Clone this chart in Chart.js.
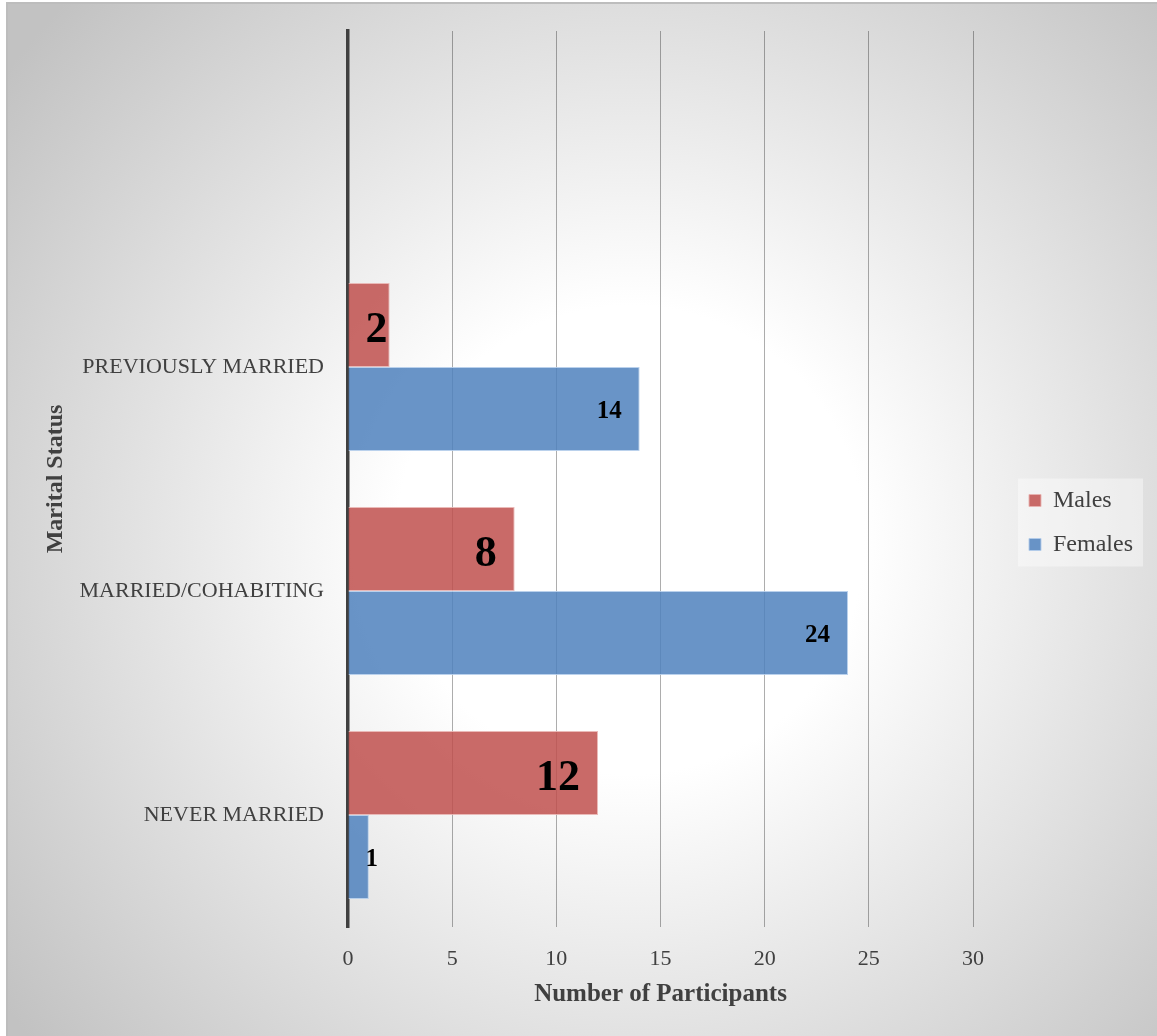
<!DOCTYPE html>
<html>
<head>
<meta charset="utf-8">
<title>Marital Status of Participants</title>
<script src="https://cdn.jsdelivr.net/npm/chart.js@4.4.1/dist/chart.umd.min.js"></script>
<style>
    html, body { margin: 0; padding: 0; background: #fff; }
</style>
</head>
<body>
<canvas id="statusChart" width="1157" height="1036"></canvas>
<script>
// Marital status by gender (top slot intentionally blank)
const categories = ['', 'PREVIOUSLY MARRIED', 'MARRIED/COHABITING', 'NEVER MARRIED'];
const males = [null, 2, 8, 12];
const females = [null, 14, 24, 1];
const xMin = 0;
const xMax = 30;
const xStep = 5;

const SERIF = '"Liberation Serif", "DejaVu Serif", serif';
const INK = '#404040';

Chart.defaults.font.family = SERIF;
Chart.defaults.color = INK;

// Grey radial backdrop plus the pale panel behind the legend
const backdrop = {
    id: 'backdrop',
    beforeDraw(chart) {
        const { ctx, width, height } = chart;
        ctx.save();
        ctx.fillStyle = '#ffffff';
        ctx.fillRect(0, 0, width, height);
        const g = ctx.createRadialGradient(630, 540, 0, 630, 540, 780);
        g.addColorStop(0, '#ffffff');
        g.addColorStop(0.3, '#ffffff');
        g.addColorStop(1, '#c2c2c2');
        ctx.fillStyle = g;
        ctx.fillRect(6, 2, width - 6, height - 2);
        ctx.strokeStyle = '#bdbdbd';
        ctx.lineWidth = 2;
        ctx.strokeRect(7, 3, width, height);

        const lg = chart.legend;
        if (lg && lg.columnSizes && lg.columnSizes.length) {
            const pad = lg.options.labels.padding;
            const colH = lg.columnSizes[0].height;
            const y0 = (lg.top + pad + lg.bottom - colH) / 2;
            ctx.fillStyle = 'rgba(255, 255, 255, 0.4)';
            ctx.fillRect(lg.left + pad - 11, y0 - 10, 125, 88);
        }
        ctx.restore();
    },
    afterLayout(chart) {
        // nudge the legend off the plot edge
        const lg = chart.legend;
        if (!lg) return;
        lg.left += 36; lg.right += 36;
        lg.top -= 11; lg.bottom -= 11;
    }
};

// Value labels near the end of each bar
const barValues = {
    id: 'barValues',
    afterDatasetsDraw(chart) {
        const { ctx } = chart;
        ctx.save();
        ctx.fillStyle = '#000000';
        ctx.textAlign = 'left';
        ctx.textBaseline = 'middle';
        chart.data.datasets.forEach((ds, di) => {
            const meta = chart.getDatasetMeta(di);
            const size = di === 0 ? 44 : 25;
            const dy = di === 0 ? 6 : 3;
            ctx.font = 'bold ' + size + 'px ' + SERIF;
            meta.data.forEach((bar, i) => {
                const v = ds.data[i];
                if (v === null || v === undefined) return;
                const text = String(v);
                const w = ctx.measureText(text).width;
                const left = Math.max(bar.x - 18 - w, bar.base + 17);
                ctx.fillText(text, left, bar.y + dy);
            });
        });
        ctx.restore();
    }
};

new Chart(document.getElementById('statusChart'), {
    type: 'bar',
    data: {
        labels: categories,
        datasets: [{
            label: 'Males',
            data: males,
            backgroundColor: 'rgba(192, 80, 77, 0.85)',
            borderColor: 'rgba(232, 178, 176, 0.9)',
            borderWidth: 1
        }, {
            label: 'Females',
            data: females,
            backgroundColor: 'rgba(79, 129, 189, 0.85)',
            borderColor: 'rgba(178, 204, 234, 0.9)',
            borderWidth: 1
        }]
    },
    options: {
        indexAxis: 'y',
        responsive: false,
        animation: false,
        categoryPercentage: 0.75,
        barPercentage: 1,
        layout: {
            padding: { top: 31, left: 0, right: 0, bottom: 0 }
        },
        plugins: {
            legend: {
                position: 'right',
                labels: {
                    boxWidth: 12,
                    boxHeight: 12,
                    padding: 20,
                    color: INK,
                    font: { size: 24 }
                }
            },
            tooltip: { enabled: false }
        },
        scales: {
            x: {
                min: xMin,
                max: xMax,
                ticks: {
                    stepSize: xStep,
                    padding: 19,
                    color: INK,
                    font: { size: 22 }
                },
                grid: {
                    color: 'rgba(0, 0, 0, 0.32)',
                    lineWidth: 1,
                    drawTicks: false
                },
                border: { display: false },
                title: {
                    display: true,
                    text: 'Number of Participants',
                    color: INK,
                    font: { size: 25, weight: 'bold' },
                    padding: { top: 0, bottom: 26 }
                },
                afterFit(scale) {
                    scale.height = 109;
                    scale.paddingRight = 184;
                }
            },
            y: {
                ticks: {
                    padding: 16,
                    color: INK,
                    font: { size: 22 }
                },
                grid: { display: false },
                border: { display: true, color: INK, width: 3.5 },
                title: {
                    display: true,
                    text: 'Marital Status',
                    color: INK,
                    font: { size: 24, weight: 'bold' },
                    padding: { top: 41, bottom: 0 }
                },
                afterFit(scale) {
                    scale.width = 348;
                }
            }
        }
    },
    plugins: [backdrop, barValues]
});
</script>
</body>
</html>
